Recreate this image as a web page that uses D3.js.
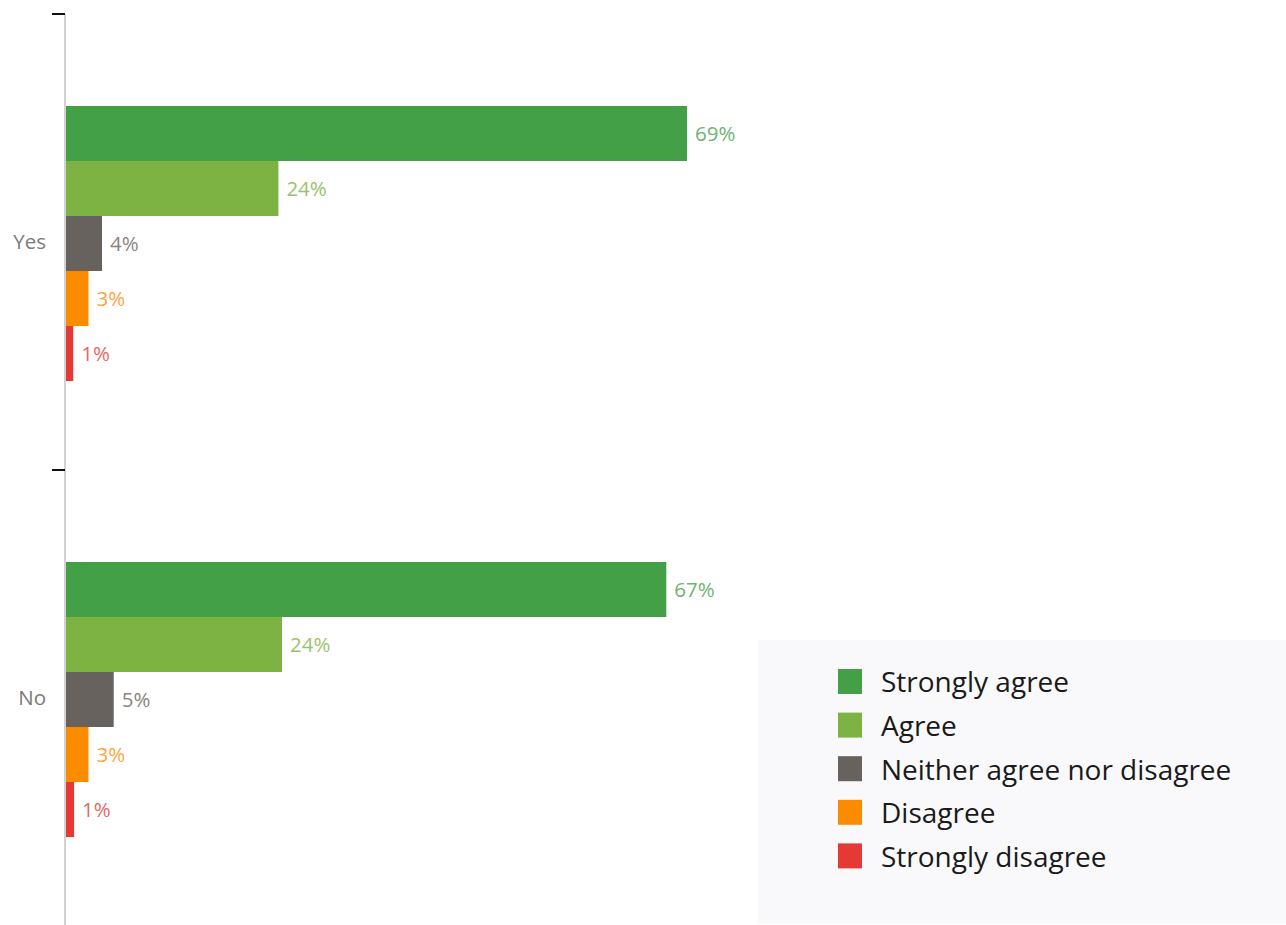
<!DOCTYPE html>
<html>
<head>
<meta charset="utf-8">
<script src="https://cdn.jsdelivr.net/npm/d3@7"></script>
<style>
  html, body { margin: 0; padding: 0; background: #fff; }
  svg { display: block; }
</style>
</head>
<body>
<svg id="chart" width="1286" height="925"></svg>
<script>
const categories = ["Yes", "No"];
const series = ["Strongly agree", "Agree", "Neither agree nor disagree", "Disagree", "Strongly disagree"];
const yesValues = [69.0, 23.6, 4.0, 2.5, 0.8];
const noValues = [66.7, 24.0, 5.3, 2.5, 0.9];
const colors = ["#43a047", "#7cb342", "#67625d", "#fb8c00", "#e53935"];

const valuesByCategory = { "Yes": yesValues, "No": noValues };

const svg = d3.select("#chart");
const W = 1286, H = 925;

const x = d3.scaleLinear().domain([0, 100]).range([66, 966]);
const y = d3.scaleBand().domain(categories).range([14, 926]).paddingInner(0).paddingOuter(0);
const ySub = d3.scaleBand().domain(series).range([3, y.bandwidth()]).paddingInner(0).paddingOuter(1.618);
const color = d3.scaleOrdinal().domain(series).range(colors);

// axis line
svg.append("line")
  .attr("x1", 65).attr("x2", 65)
  .attr("y1", 14).attr("y2", H)
  .attr("stroke", "#d2d2d2").attr("stroke-width", 2);

// boundary ticks
svg.selectAll("line.tick").data(categories).enter().append("line")
  .attr("class", "tick")
  .attr("x1", 52).attr("x2", 65)
  .attr("y1", d => y(d)).attr("y2", d => y(d))
  .attr("stroke", "#111").attr("stroke-width", 2);

// category labels
svg.selectAll("text.cat").data(categories).enter().append("text")
  .attr("class", "cat")
  .attr("x", 46)
  .attr("y", d => y(d) + y.bandwidth() / 2)
  .attr("dy", "0.35em")
  .attr("text-anchor", "end")
  .attr("font-family", "Open Sans, sans-serif")
  .attr("font-size", 20.5)
  .attr("fill", "#7a7a7a")
  .text(d => d);

// bars
const groups = svg.selectAll("g.cat").data(categories).enter().append("g")
  .attr("class", "cat")
  .attr("transform", d => `translate(0,${y(d)})`);

const rows = groups.selectAll("g.bar")
  .data(c => series.map((s, i) => ({ s, v: valuesByCategory[c][i] })))
  .enter().append("g").attr("class", "bar");

rows.append("rect")
  .attr("x", x(0))
  .attr("y", d => ySub(d.s))
  .attr("width", d => x(d.v) - x(0))
  .attr("height", ySub.bandwidth())
  .attr("fill", d => color(d.s));

rows.append("text")
  .attr("x", d => x(d.v) + 8)
  .attr("y", d => ySub(d.s) + ySub.bandwidth() / 2)
  .attr("dy", "0.35em")
  .attr("font-family", "Open Sans, sans-serif")
  .attr("font-size", 20.5)
  .attr("fill", d => color(d.s))
  .attr("fill-opacity", 0.8)
  .text(d => Math.round(d.v) + "%");

// legend
const legend = svg.append("g");
legend.append("rect")
  .attr("x", 758).attr("y", 640)
  .attr("width", W - 758).attr("height", 284)
  .attr("fill", "#f9f9fb");

const lg = legend.selectAll("g.item").data(series).enter().append("g")
  .attr("class", "item")
  .attr("transform", (d, i) => `translate(838,${669 + i * 43.6})`);

lg.append("rect")
  .attr("width", 24).attr("height", 25)
  .attr("fill", d => color(d));

lg.append("text")
  .attr("x", 43)
  .attr("y", 13.5)
  .attr("dy", "0.35em")
  .attr("font-family", "Open Sans, sans-serif")
  .attr("font-size", 28)
  .attr("fill", "#1a1a1a")
  .text(d => d);
</script>
</body>
</html>
